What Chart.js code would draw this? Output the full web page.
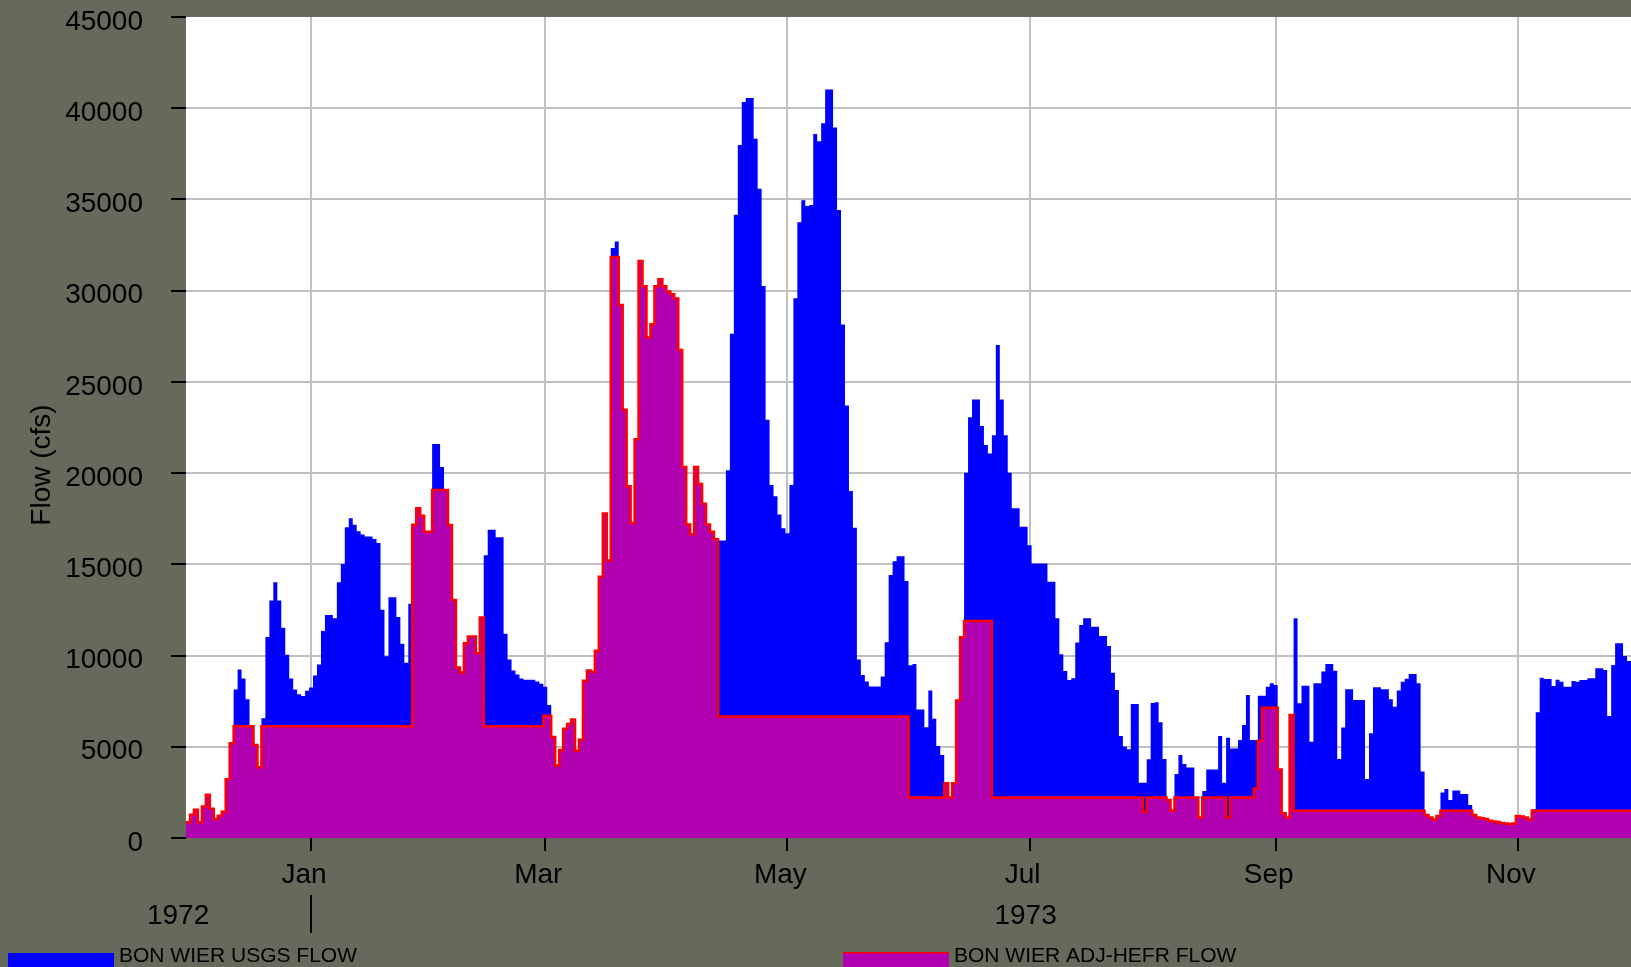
<!DOCTYPE html>
<html><head><meta charset="utf-8">
<script src="https://cdn.jsdelivr.net/npm/chart.js@4.4.0/dist/chart.umd.min.js"></script>
<style>
html,body{margin:0;padding:0;background:#666a5b;overflow:hidden;}
canvas{display:block;}
</style></head>
<body>
<canvas id="c" width="1631" height="967"></canvas>
<script>
const FONT = '"Liberation Sans", Arial, Helvetica, sans-serif';
const seriesLabels = ['BON WIER USGS FLOW', 'BON WIER ADJ-HEFR FLOW'];
const seriesColors = ['#0000ff', '#b000b0'];
const lineColors = ['#0000ff', '#ff0000'];
// day index 0 = 1 Dec 1972
const monthTickDays = [31, 90, 151, 212, 274, 335];
const monthTickLabels = ['Jan', 'Mar', 'May', 'Jul', 'Sep', 'Nov'];
const yearLabels = ['1972', '1973'];
const yearLabelDays = [-2.5, 211];
const yearBreakDay = 31;
const yMin = 0, yMax = 45000, yStep = 5000;

const usgsFlow = [
 870, 1275, 1550, 870, 1730, 2370, 1600, 1040, 1220, 1440,
 3220, 5190, 8140, 9230, 8740, 7610, 6130, 5100, 3880, 6560,
 11020, 13020, 14020, 13020, 11530, 10050, 8740, 8140, 7880, 7780,
 8070, 8250, 8900, 9510, 11350, 12220, 12220, 12040, 14020, 15020,
 17030, 17520, 17170, 16810, 16630, 16520, 16520, 16390, 16170, 12510,
 9960, 13200, 13200, 12110, 10650, 9610, 12840, 17170, 18080, 17660,
 16790, 16790, 21600, 21600, 20340, 19080, 17160, 13040, 9340, 9070,
 10680, 11040, 11040, 10120, 12090, 15500, 16890, 16890, 16490, 16490,
 11190, 9790, 9180, 8960, 8740, 8670, 8670, 8670, 8580, 8450,
 8290, 7290, 5540, 3970, 4820, 5990, 6250, 6500, 4780, 5380,
 8620, 9180, 9110, 10270, 14320, 17780, 15210, 32340, 32700, 29220,
 23470, 19280, 17270, 21850, 31630, 30240, 27430, 28160, 30240, 30620,
 30240, 29950, 29800, 29570, 26750, 20340, 17190, 16650, 20340, 19400,
 18320, 17190, 16780, 16380, 16300, 16300, 20150, 27640, 34160, 37980,
 40340, 40560, 40560, 38320, 35580, 30250, 22930, 19350, 18730, 17730,
 16980, 16710, 19350, 29580, 33750, 34960, 34640, 34690, 38590, 38190,
 39180, 41020, 41020, 38940, 34420, 28150, 23710, 19020, 17000, 9790,
 8930, 8580, 8310, 8310, 8310, 8850, 10730, 14420, 15170, 15440,
 15440, 14090, 9470, 9540, 7050, 7050, 6070, 8080, 6540, 5040,
 4550, 3000, 2220, 3000, 7530, 11000, 20020, 23060, 24040, 24040,
 22580, 21540, 21080, 22070, 27020, 24040, 22070, 20020, 18070, 18070,
 17060, 17060, 16040, 15050, 15050, 15050, 15050, 14050, 14050, 12040,
 10070, 9150, 8660, 8750, 10710, 11670, 12040, 12040, 11580, 11580,
 11070, 11070, 10520, 9060, 8110, 5590, 5010, 4860, 7340, 7340,
 3030, 3030, 4310, 7400, 7440, 6340, 4330, 2080, 1500, 3510,
 4550, 4060, 3870, 3870, 2220, 1130, 2580, 3760, 3760, 3760,
 5590, 3030, 5500, 4910, 4910, 5370, 6190, 7840, 5370, 5370,
 7800, 7800, 8290, 8480, 8390, 3760, 1350, 1130, 6740, 12040,
 7380, 8350, 8350, 5280, 8480, 8480, 9120, 9540, 9540, 9170,
 4330, 6050, 8150, 8150, 7560, 7560, 7560, 3230, 5740, 8260,
 8260, 8150, 8150, 7600, 7200, 8080, 8570, 8730, 8990, 8990,
 8480, 3640, 1260, 1130, 1020, 1200, 2500, 2690, 2080, 2600,
 2600, 2410, 2410, 1810, 1260, 1130, 1080, 1040, 950, 900,
 880, 820, 800, 770, 800, 1200, 1180, 1130, 1020, 1570,
 6890, 8790, 8710, 8710, 8330, 8680, 8570, 8290, 8290, 8610,
 8570, 8660, 8660, 8750, 8750, 9300, 9300, 9210, 6690, 9480,
 10670, 10670, 9980, 9700
];

const adjFlow = [
 870, 1275, 1550, 870, 1730, 2370, 1600, 1040, 1220, 1440,
 3220, 5190, 6130, 6130, 6130, 6130, 6130, 5100, 3880, 6130,
 6130, 6130, 6130, 6130, 6130, 6130, 6130, 6130, 6130, 6130,
 6130, 6130, 6130, 6130, 6130, 6130, 6130, 6130, 6130, 6130,
 6130, 6130, 6130, 6130, 6130, 6130, 6130, 6130, 6130, 6130,
 6130, 6130, 6130, 6130, 6130, 6130, 6130, 17170, 18080, 17660,
 16790, 16790, 19080, 19080, 19080, 19080, 17160, 13040, 9340, 9070,
 10680, 11040, 11040, 10120, 12090, 6130, 6130, 6130, 6130, 6130,
 6130, 6130, 6130, 6130, 6130, 6130, 6130, 6130, 6130, 6130,
 6700, 6700, 5540, 3970, 4820, 5990, 6250, 6500, 4780, 5380,
 8620, 9180, 9110, 10270, 14320, 17780, 15210, 31850, 31850, 29220,
 23470, 19280, 17270, 21850, 31630, 30240, 27430, 28160, 30240, 30620,
 30240, 29950, 29800, 29570, 26750, 20340, 17190, 16650, 20340, 19400,
 18320, 17190, 16780, 16380, 6660, 6660, 6660, 6660, 6660, 6660,
 6660, 6660, 6660, 6660, 6660, 6660, 6660, 6660, 6660, 6660,
 6660, 6660, 6660, 6660, 6660, 6660, 6660, 6660, 6660, 6660,
 6660, 6660, 6660, 6660, 6660, 6660, 6660, 6660, 6660, 6660,
 6660, 6660, 6660, 6660, 6660, 6660, 6660, 6660, 6660, 6660,
 6660, 6660, 2220, 2220, 2220, 2220, 2220, 2220, 2220, 2220,
 2220, 3000, 2220, 3000, 7530, 11000, 11890, 11890, 11890, 11890,
 11890, 11890, 11890, 2220, 2220, 2220, 2220, 2220, 2220, 2220,
 2220, 2220, 2220, 2220, 2220, 2220, 2220, 2220, 2220, 2220,
 2220, 2220, 2220, 2220, 2220, 2220, 2220, 2220, 2220, 2220,
 2220, 2220, 2220, 2220, 2220, 2220, 2220, 2220, 2220, 2220,
 2220, 1440, 2220, 2220, 2220, 2220, 2220, 2080, 1500, 2220,
 2220, 2220, 2220, 2220, 2220, 1130, 2220, 2220, 2220, 2220,
 2220, 2220, 1130, 2220, 2220, 2220, 2220, 2220, 2220, 2720,
 5330, 7140, 7140, 7140, 7140, 3760, 1350, 1130, 6740, 1500,
 1500, 1500, 1500, 1500, 1500, 1500, 1500, 1500, 1500, 1500,
 1500, 1500, 1500, 1500, 1500, 1500, 1500, 1500, 1500, 1500,
 1500, 1500, 1500, 1500, 1500, 1500, 1500, 1500, 1500, 1500,
 1500, 1500, 1260, 1130, 1020, 1200, 1500, 1500, 1500, 1500,
 1500, 1500, 1500, 1500, 1260, 1130, 1080, 1040, 950, 900,
 880, 820, 800, 770, 800, 1200, 1180, 1130, 1020, 1500,
 1500, 1500, 1500, 1500, 1500, 1500, 1500, 1500, 1500, 1500,
 1500, 1500, 1500, 1500, 1500, 1500, 1500, 1500, 1500, 1500,
 1500, 1500, 1500, 1500
];

// each daily value spans [day-0.5, day+0.5]
function toSteps(arr) {
  const pts = arr.map((v, i) => ({ x: i - 0.5, y: v }));
  pts.push({ x: arr.length - 0.5, y: arr[arr.length - 1] });
  return pts;
}

const bgPlugin = {
  id: 'bg',
  beforeDraw(chart) {
    const { ctx, chartArea: a } = chart;
    ctx.save();
    ctx.fillStyle = '#666a5b';
    ctx.fillRect(0, 0, chart.width, chart.height);
    ctx.fillStyle = '#ffffff';
    ctx.fillRect(a.left, a.top, a.right - a.left, a.bottom - a.top);
    ctx.restore();
  }
};

const decoPlugin = {
  id: 'deco',
  afterDraw(chart) {
    const ctx = chart.ctx;
    const xs = chart.scales.x;
    ctx.save();
    ctx.fillStyle = '#000';
    ctx.font = '28px ' + FONT;
    ctx.textAlign = 'center';
    ctx.textBaseline = 'middle';
    yearLabels.forEach((t, i) => ctx.fillText(t, xs.getPixelForValue(yearLabelDays[i]), 916));
    const sx = Math.round(xs.getPixelForValue(yearBreakDay));
    ctx.fillRect(sx - 1, 895, 2, 38);
    ctx.save();
    ctx.translate(42, 465);
    ctx.rotate(-Math.PI / 2);
    ctx.fillText('Flow (cfs)', 0, 0);
    ctx.restore();
    // legend
    const lx = [8, 843];
    ctx.font = '21px ' + FONT;
    ctx.textAlign = 'left';
    ctx.textBaseline = 'alphabetic';
    seriesLabels.forEach((t, i) => {
      ctx.fillStyle = seriesColors[i];
      ctx.fillRect(lx[i], 953, 106, 16);
      if (i === 1) { ctx.fillStyle = lineColors[1]; ctx.fillRect(lx[i], 952, 106, 1.5); }
      ctx.fillStyle = '#000';
      ctx.fillText(t, lx[i] + 111, 962);
    });
    ctx.restore();
  }
};

new Chart(document.getElementById('c'), {
  type: 'line',
  data: {
    datasets: [
      { label: seriesLabels[0], data: toSteps(usgsFlow), stepped: true, fill: 'origin',
        backgroundColor: seriesColors[0], borderColor: lineColors[0], borderWidth: 0,
        pointRadius: 0, order: 2 },
      { label: seriesLabels[1], data: toSteps(adjFlow), stepped: true, fill: 'origin',
        backgroundColor: seriesColors[1], borderColor: lineColors[1], borderWidth: 2.5,
        pointRadius: 0, order: 1 }
    ]
  },
  options: {
    responsive: false, animation: false, devicePixelRatio: 1,
    layout: { padding: { top: 17, left: 0, right: 0, bottom: 0 } },
    plugins: { legend: { display: false }, tooltip: { enabled: false } },
    scales: {
      x: {
        type: 'linear', min: -0.5, max: 363.5,
        afterBuildTicks: s => { s.ticks = monthTickDays.map(v => ({ value: v })); },
        afterFit: s => { s.height = 129; s.paddingLeft = 0; s.paddingRight = 0; },
        ticks: { callback: (v, i) => monthTickLabels[i], autoSkip: false, maxRotation: 0, minRotation: 0,
          color: '#000', font: { size: 28, family: FONT }, padding: 7, labelOffset: -7 },
        grid: { color: '#c0c0c0', lineWidth: 2, tickColor: '#000', tickWidth: 2, tickLength: 13 },
        border: { display: false }
      },
      y: {
        min: yMin, max: yMax,
        afterFit: s => { s.width = 186; s.paddingTop = 0; s.paddingBottom = 0; },
        ticks: { stepSize: yStep, callback: v => String(v), color: '#000',
          font: { size: 28, family: FONT, lineHeight: 1 }, padding: 28, labelOffset: 5 },
        grid: { color: c => (c.tick && (c.tick.value === yMin || c.tick.value === yMax)) ? 'rgba(0,0,0,0)' : '#c0c0c0',
          lineWidth: 2, tickColor: '#000', tickWidth: 2, tickLength: 15 },
        border: { display: false }
      }
    }
  },
  plugins: [bgPlugin, decoPlugin]
});
</script>
</body></html>
